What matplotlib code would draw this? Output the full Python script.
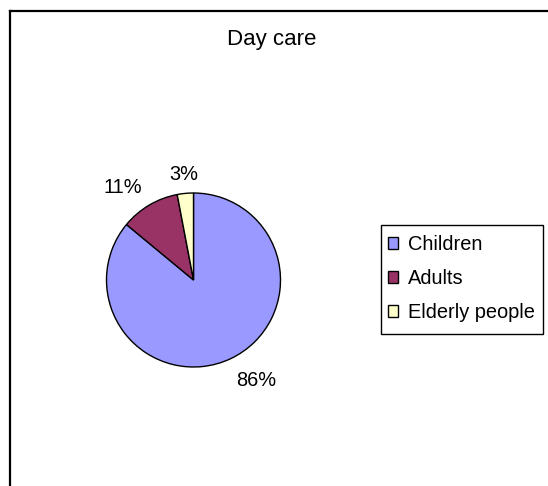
import numpy as np
import matplotlib
matplotlib.use("Agg")
import matplotlib.pyplot as plt
from matplotlib.lines import Line2D
from matplotlib.patches import Rectangle

plt.rcParams['font.family'] = ['Liberation Sans', 'DejaVu Sans']

title = "Day care"
groups = ["Children", "Adults", "Elderly people"]
shares = [86, 11, 3]
colors = ["#9999FF", "#993366", "#FFFFCC"]

W, H = 548, 486
fig = plt.figure(figsize=(W / 100, H / 100), dpi=100)

# pie area in pixels: centre (193.5, 280), radius 87
cx, cy, r = 193.5, 280, 87
ax = fig.add_axes([(cx - r) / W, (H - cy - r) / H, 2 * r / W, 2 * r / H])
wedges, _ = ax.pie(shares, colors=colors, startangle=90, counterclock=False,
                   wedgeprops=dict(edgecolor="black", linewidth=1.0))
ax.set_xlim(-1, 1)
ax.set_ylim(-1, 1)
ax.set_aspect("equal")
ax.axis("off")

# percentage labels just outside each wedge, anchored on the side facing the pie
total = sum(shares)
for w, v in zip(wedges, shares):
    mid = np.deg2rad((w.theta1 + w.theta2) / 2)
    dx, dy = np.cos(mid), np.sin(mid)
    ha = "left" if dx > 0.3 else ("right" if dx < -0.3 else "center")
    va = "top" if dy < -0.3 else ("baseline" if dy > 0.3 else "center")
    ax.text(1.16 * dx, 1.16 * dy, f"{100 * v / total:.0f}%", ha=ha, va=va,
            fontsize=14.4, clip_on=False)

fig.text(271.5 / W, 1 - 39 / H, title, ha="center", va="center", fontsize=16)

# legend entries without a frame; the box is drawn separately so the
# horizontal and vertical padding can differ
leg = fig.legend(wedges, groups, loc="upper left",
                 bbox_to_anchor=(388 / W, 1 - 235 / H),
                 fontsize=14.4, frameon=False,
                 handlelength=0.5, handleheight=0.5, handletextpad=0.5,
                 labelspacing=0.75, borderpad=0, borderaxespad=0)
fig.add_artist(Rectangle((381 / W, 1 - 334 / H), 162 / W, 109 / H,
                         transform=fig.transFigure, fill=False,
                         edgecolor="black", linewidth=1.0))

# outer frame: only left and top edges are visible
fig.add_artist(Line2D([10 / W, 10 / W], [0, 1 - 11 / H], color="black", linewidth=1.6))
fig.add_artist(Line2D([10 / W, 547 / W], [1 - 11 / H, 1 - 11 / H], color="black", linewidth=1.6))

fig.savefig("out.png", dpi=100)
